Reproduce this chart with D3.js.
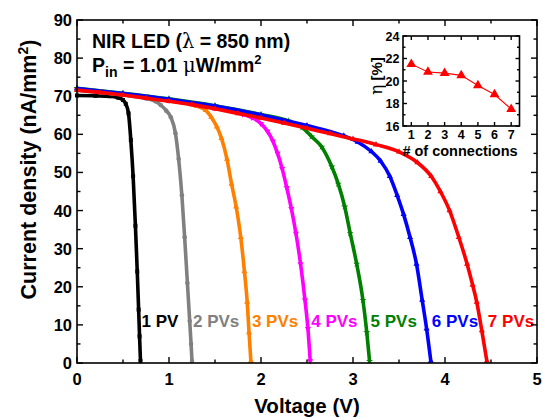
<!DOCTYPE html>
<html>
<head>
<meta charset="utf-8">
<script src="https://cdn.jsdelivr.net/npm/d3@7"></script>
<style>
  body { margin: 0; background: #fff; }
  svg { display: block; font-family: "Liberation Sans", Arial, sans-serif; font-weight: bold; }
</style>
</head>
<body>
<svg id="chart" width="543" height="418"></svg>
<script>
// J-V curves: [voltage (V), current density (nA/mm2)]
var seriesNames = ['1 PV', '2 PVs', '3 PVs', '4 PVs', '5 PVs', '6 PVs', '7 PVs'];
var seriesColors = ['#000000', '#808080', '#ff8000', '#ff00ff', '#008000', '#0000ff', '#ff0000'];

var pv1 = [[0,70.2],[0.2,70.1],[0.35,70.0],[0.45,69.6],[0.5,69.0],[0.53,68.0],[0.56,65.5],[0.585,58.5],
           [0.61,49],[0.635,36],[0.655,24],[0.67,14],[0.68,7],[0.69,0.5]];
var pv2 = [[0,71.6],[0.25,71.0],[0.5,70.3],[0.75,69.4],[0.85,68.7],[0.91,67.7],[0.97,66.2],[1.02,64.5],
           [1.07,60.3],[1.105,53.5],[1.14,44],[1.17,33],[1.2,21],[1.225,11],[1.24,5],[1.25,0.5]];
var pv3 = [[0,71.8],[0.5,70.4],[1.0,68.8],[1.3,67.4],[1.4,66.3],[1.46,64.5],[1.52,62],[1.57,59],
           [1.63,53.5],[1.68,47],[1.73,41],[1.78,33],[1.82,24],[1.85,16],[1.87,8],[1.89,0.5]];
var pv4 = [[0,71.8],[0.5,70.5],[1.0,68.9],[1.5,66.9],[1.8,65.3],[1.9,64.4],[2.0,62.8],[2.07,60.8],
           [2.13,58.2],[2.18,55],[2.23,51],[2.28,46],[2.33,40.5],[2.38,34],[2.43,26],[2.478,16.5],
           [2.51,9],[2.535,0.5]];
var pv5 = [[0,72.1],[0.5,70.8],[1.0,69.3],[1.5,67.5],[2.0,65.2],[2.3,63.5],[2.45,61.8],[2.55,59.4],
           [2.66,56.7],[2.77,51.5],[2.84,47],[2.91,41],[2.97,34],[3.04,26],[3.108,16.5],[3.15,8],[3.18,0.5]];
var pv6 = [[0,72.0],[0.5,70.7],[1.0,69.2],[1.5,67.4],[2.0,65.1],[2.5,62.3],[2.9,59.6],[3.05,58],
           [3.2,55.5],[3.3,53],[3.4,49],[3.48,44],[3.55,39],[3.62,33],[3.69,26],[3.752,16.5],
           [3.8,9],[3.846,0.5]];
var pv7 = [[0,71.6],[0.25,71.0],[0.5,70.3],[0.75,69.5],[1.0,68.7],[1.25,67.8],[1.5,66.7],[1.75,65.5],
           [2.0,64.3],[2.25,63.0],[2.5,61.6],[2.75,60.2],[3.0,58.8],[3.25,57.3],[3.5,55.4],[3.7,52.6],
           [3.85,49],[3.95,45],[4.05,40],[4.15,33],[4.24,26],[4.3,20.5],[4.345,16],[4.4,8.5],[4.455,0.5]];
var allSeries = [pv1, pv2, pv3, pv4, pv5, pv6, pv7];

// inset: efficiency vs number of connections
var connections = [1, 2, 3, 4, 5, 6, 7];
var efficiency = [21.5, 20.8, 20.7, 20.5, 19.6, 18.8, 17.5];

var voltTicks = [0, 1, 2, 3, 4, 5];
var currTicks = [0, 10, 20, 30, 40, 50, 60, 70, 80, 90];
var effTicks = [16, 18, 20, 22, 24];

var svg = d3.select('#chart');
var plotL = 77, plotR = 537, plotT = 20, plotB = 363;

var x = d3.scaleLinear().domain([0, 5]).range([plotL, plotR]);
var y = d3.scaleLinear().domain([0, 90]).range([plotB, plotT]);

function frameAxes(g, xs, ys, xt, yt, xMinor, yMinor, majLen, minLen) {
    var xl = xs.range()[0], xr = xs.range()[1], yb = ys.range()[0], ytop = ys.range()[1];
    g.append('rect').attr('x', xl).attr('y', ytop).attr('width', xr - xl).attr('height', yb - ytop)
     .attr('fill', 'none').attr('stroke', '#000').attr('stroke-width', 1.6);
    var ticks = [];
    xt.forEach(function (v) { ticks.push({ v: v, len: majLen }); });
    xMinor.forEach(function (v) { ticks.push({ v: v, len: minLen }); });
    ticks.forEach(function (t) {
        g.append('line').attr('x1', xs(t.v)).attr('x2', xs(t.v)).attr('y1', yb).attr('y2', yb - t.len)
         .attr('stroke', '#000').attr('stroke-width', 1.4);
        g.append('line').attr('x1', xs(t.v)).attr('x2', xs(t.v)).attr('y1', ytop).attr('y2', ytop + t.len)
         .attr('stroke', '#000').attr('stroke-width', 1.4);
    });
    ticks = [];
    yt.forEach(function (v) { ticks.push({ v: v, len: majLen }); });
    yMinor.forEach(function (v) { ticks.push({ v: v, len: minLen }); });
    ticks.forEach(function (t) {
        g.append('line').attr('y1', ys(t.v)).attr('y2', ys(t.v)).attr('x1', xl).attr('x2', xl + t.len)
         .attr('stroke', '#000').attr('stroke-width', 1.4);
        g.append('line').attr('y1', ys(t.v)).attr('y2', ys(t.v)).attr('x1', xr).attr('x2', xr - t.len)
         .attr('stroke', '#000').attr('stroke-width', 1.4);
    });
}

// curves
var line = d3.line().x(function (d) { return x(d[0]); }).y(function (d) { return y(d[1]); })
    .curve(d3.curveMonotoneX);
var symbols = [d3.symbolSquare, d3.symbolCircle, d3.symbolTriangle, d3.symbolTriangle,
               d3.symbolStar, d3.symbolTriangle, d3.symbolTriangle];

allSeries.forEach(function (data, i) {
    var g = svg.append('g');
    g.append('path').datum(data).attr('d', line).attr('fill', 'none')
     .attr('stroke', seriesColors[i]).attr('stroke-width', 3.6).attr('stroke-linejoin', 'round');
    g.selectAll('path.m').data(data).enter().append('path').attr('class', 'm')
     .attr('d', d3.symbol().type(symbols[i]).size(16))
     .attr('transform', function (d) { return 'translate(' + x(d[0]) + ',' + y(d[1]) + ')' + (i == 3 ? ' rotate(180)' : ''); })
     .attr('fill', seriesColors[i]);
    var last = data[data.length - 1];
    g.append('text').attr('x', x(last[0]) + 1).attr('y', 327)
     .attr('font-size', 17).attr('fill', seriesColors[i]).text(seriesNames[i]);
});

// main frame
frameAxes(svg.append('g'), x, y, voltTicks, currTicks,
          d3.range(0.5, 5, 1), d3.range(5, 90, 10), 6, 3.5);

svg.append('g').selectAll('text').data(voltTicks).enter().append('text')
   .attr('x', function (d) { return x(d); }).attr('y', 385).attr('text-anchor', 'middle')
   .attr('font-size', 16.5).text(function (d) { return d; });
svg.append('g').selectAll('text').data(currTicks).enter().append('text')
   .attr('x', 72).attr('y', function (d) { return y(d) + 6; }).attr('text-anchor', 'end')
   .attr('font-size', 16.5).text(function (d) { return d; });

svg.append('text').attr('x', (plotL + plotR) / 2).attr('y', 413).attr('text-anchor', 'middle')
   .attr('font-size', 20.5).text('Voltage (V)');
var yl = svg.append('text').attr('transform', 'translate(36,' + ((plotT + plotB) / 2 - 22) + ') rotate(-90)')
   .attr('text-anchor', 'middle').attr('font-size', 21.5);
yl.append('tspan').text('Current density (nA/mm');
yl.append('tspan').attr('font-size', 14).attr('dy', -8).text('2');
yl.append('tspan').attr('dy', 8).text(')');

// annotation
var t1 = svg.append('text').attr('x', 92).attr('y', 48).attr('font-size', 19.5);
t1.append('tspan').text('NIR LED (');
t1.append('tspan').attr('font-weight', 'normal').attr('font-family', 'DejaVu Serif').text('λ');
t1.append('tspan').text(' = 850 nm)');
var t2 = svg.append('text').attr('x', 92).attr('y', 71.5).attr('font-size', 19.5);
t2.append('tspan').text('P');
t2.append('tspan').attr('font-size', 14).attr('dy', 5).text('in');
t2.append('tspan').attr('dy', -5).text(' = 1.01 ');
t2.append('tspan').attr('font-weight', 'normal').attr('font-family', 'DejaVu Serif').text('μ');
t2.append('tspan').text('W/mm');
t2.append('tspan').attr('font-size', 13).attr('dy', -8).text('2');

// inset
var ix = d3.scaleLinear().domain([0.5, 7.5]).range([403, 519.5]);
var iy = d3.scaleLinear().domain([16, 24]).range([126, 36]);
var inset = svg.append('g');
inset.append('rect').attr('x', 403).attr('y', 36).attr('width', 116.5).attr('height', 90).attr('fill', '#fff');
frameAxes(inset, ix, iy, connections, effTicks, [], d3.range(17, 24, 2), 4, 2.5);

inset.append('path').datum(d3.zip(connections, efficiency))
     .attr('d', d3.line().x(function (d) { return ix(d[0]); }).y(function (d) { return iy(d[1]); }))
     .attr('fill', 'none').attr('stroke', '#ff0000').attr('stroke-width', 1.1);
inset.selectAll('path.tri').data(d3.zip(connections, efficiency)).enter().append('path').attr('class', 'tri')
     .attr('d', d3.symbol().type(d3.symbolTriangle).size(42))
     .attr('transform', function (d) { return 'translate(' + ix(d[0]) + ',' + iy(d[1]) + ')'; })
     .attr('fill', '#ff0000');

inset.selectAll('text.xt').data(connections).enter().append('text').attr('class', 'xt')
     .attr('x', function (d) { return ix(d); }).attr('y', 139).attr('text-anchor', 'middle')
     .attr('font-size', 12.5).text(function (d) { return d; });
inset.selectAll('text.yt').data(effTicks).enter().append('text').attr('class', 'yt')
     .attr('x', 399.5).attr('y', function (d) { return iy(d) + 4.5; }).attr('text-anchor', 'end')
     .attr('font-size', 12.5).text(function (d) { return d; });
inset.append('text').attr('x', 460).attr('y', 155.5).attr('text-anchor', 'middle')
     .attr('font-size', 14.5).text('# of connections');
var il = inset.append('text').attr('transform', 'translate(382,76) rotate(-90)')
     .attr('text-anchor', 'middle').attr('font-size', 15);
il.append('tspan').attr('font-weight', 'normal').attr('font-family', 'DejaVu Serif').attr('font-size', 17).text('η');
il.append('tspan').text(' [%]');
</script>
</body>
</html>
